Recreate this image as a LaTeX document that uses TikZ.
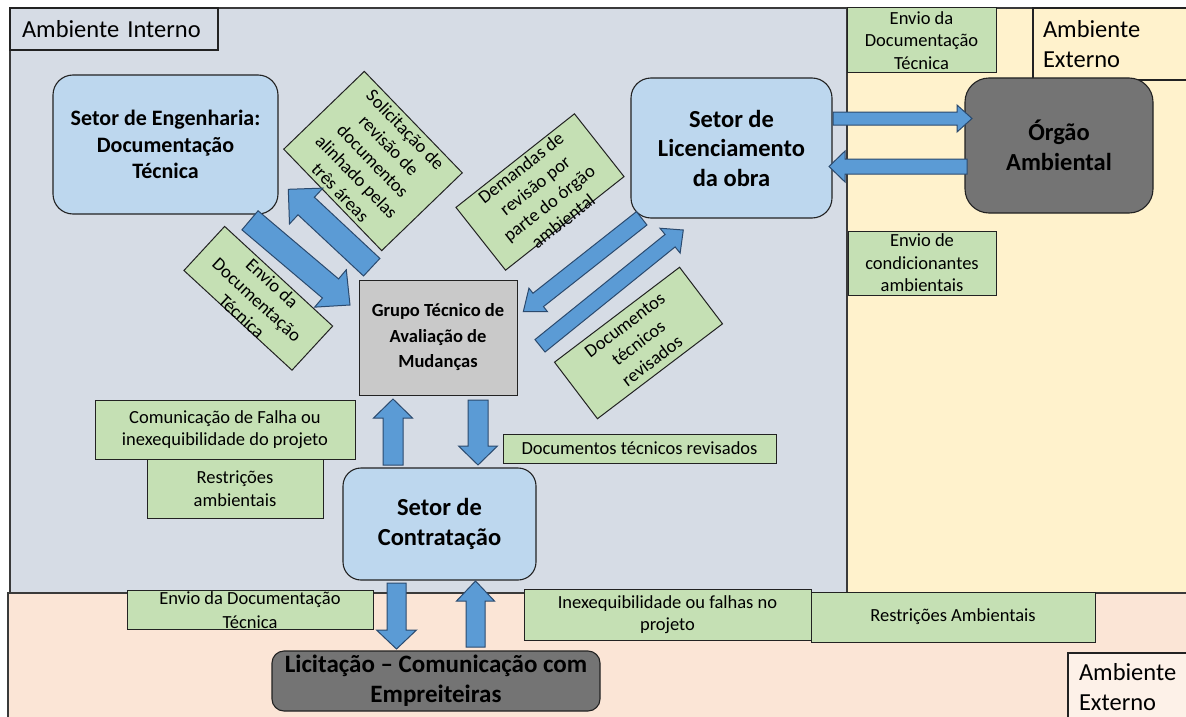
\documentclass[tikz,border=0pt]{standalone}
\usepackage{fontspec}
\setmainfont{Carlito}
\usetikzlibrary{calc}

\definecolor{innerbg}{HTML}{D6DCE5}
\definecolor{outerbg}{HTML}{FFF2CC}
\definecolor{lowerbg}{HTML}{FBE5D6}
\definecolor{lowertag}{HTML}{FDF1E8}
\definecolor{sectorblue}{HTML}{BDD7EE}
\definecolor{notegreen}{HTML}{C5E0B4}
\definecolor{groupgray}{HTML}{C9C9C9}
\definecolor{darkunit}{HTML}{747474}
\definecolor{flowblue}{HTML}{5B9BD5}
\definecolor{flowedge}{HTML}{2B4A6E}
\definecolor{edgeblack}{HTML}{222222}
\definecolor{zoneedge}{HTML}{3A3A3A}

\newcommand\fsz[2]{\fontsize{#1}{#2}\selectfont}

% block arrow: start, end, half shaft width, half head width, head length
\newcommand\flowarrow[5]{%
  \path ($(#2)!#5!(#1)$) coordinate (hbase);
  \draw[flow] ($(#1)!#3!90:(#2)$) -- ($(hbase)!#3!90:(#2)$)
    -- ($(hbase)!#4!90:(#2)$) -- (#2) -- ($(hbase)!#4!-90:(#2)$)
    -- ($(hbase)!#3!-90:(#2)$) -- ($(#1)!#3!-90:(#2)$) -- cycle;
}

\tikzset{
  zone/.style={draw=zoneedge, line width=1.3pt},
  zonetag/.style={draw=edgeblack, line width=1.1pt, inner sep=0pt, align=left,
    font=\fsz{24.5}{30}},
  sector/.style={draw=edgeblack, line width=1.1pt, fill=sectorblue,
    rounded corners=20pt, align=center, inner sep=0pt,
    font=\bfseries\fsz{24.5}{29.5}},
  unit/.style={sector, fill=darkunit},
  note/.style={draw=edgeblack, line width=1pt, fill=notegreen, align=center,
    inner sep=0pt, font=\fsz{18.5}{22.6}},
  notetext/.style={align=center, inner sep=0pt, font=\fsz{18.5}{22.6}},
  flow/.style={fill=flowblue, draw=flowedge, line width=1pt, line join=miter},
}

\begin{document}
\begin{tikzpicture}[x=1pt, y=-1pt]
\useasboundingbox (0,0) rectangle (1186,717);
\fill[white] (0,0) rectangle (1186,717);

% environment areas
\filldraw[zone, fill=lowerbg] (8,593) rectangle (1192,722);
\filldraw[zone, fill=outerbg] (847,8) rectangle (1192,593);
\filldraw[zone, fill=innerbg] (10,8) rectangle (847,593);

% area captions
\node[zonetag, fill=innerbg, minimum width=208pt, minimum height=42pt,
  text width=184pt] (tagint) at (114,29) {Ambiente Interno};
\node[zonetag, fill=outerbg, minimum width=157pt, minimum height=72pt,
  text width=137pt] (tagext) at (1111.5,44) {Ambiente\\Externo};
\node[zonetag, fill=lowertag, minimum width=122pt, minimum height=69pt,
  text width=100pt] (tagextb) at (1129,687.5) {Ambiente\\Externo};

% sectors and external bodies
\node[sector, minimum width=225pt, minimum height=139pt,
  font=\bfseries\fsz{22}{26.5}] (eng) at (165.5,144.5)
  {Setor de Engenharia:\\Documentação\\Técnica};
\node[sector, minimum width=201pt, minimum height=140pt] (lic) at (731.5,148)
  {Setor de\\Licenciamento\\da obra};
\node[unit, rounded corners=24pt, minimum width=188pt, minimum height=135pt]
  (org) at (1059,145.5) {Órgão\\Ambiental};
\node[draw=edgeblack, line width=1pt, fill=groupgray, align=center,
  inner sep=0pt, font=\bfseries\fsz{18.5}{25.5}, minimum width=158pt,
  minimum height=115pt] (grp) at (438,337.5)
  {Grupo Técnico de\\Avaliação de\\Mudanças};
\node[sector, rounded corners=18pt, minimum width=193pt, minimum height=112pt]
  (con) at (439.5,524) {Setor de\\Contratação};
\node[unit, rounded corners=12pt, minimum width=328pt, minimum height=60pt,
  font=\bfseries\fsz{25}{30}] (lit) at (436,681)
  {Licitação – Comunicação com\\Empreiteiras};

% flow notes
\node[note, minimum width=149pt, minimum height=65pt] (nEnvTop) at (921.5,40.5)
  {Envio da\\Documentação\\Técnica};
\node[note, minimum width=148pt, minimum height=64pt] (nCond) at (922,263)
  {Envio de\\condicionantes\\ambientais};
\node[note, minimum width=260pt, minimum height=59pt] (nCom) at (225,429.5)
  {Comunicação de Falha ou\\inexequibilidade do projeto};
\node[note, minimum width=176pt, minimum height=59pt] (nRestr) at (235,488.5)
  {Restrições\\ambientais};
\node[note, minimum width=273pt, minimum height=29pt] (nDocRev) at (639.5,448.5)
  {Documentos técnicos revisados};
\node[note, minimum width=246pt, minimum height=39pt] (nEnvBot) at (250,609.5) {};
\node[notetext, anchor=north] (nEnvBotT) at ($(nEnvBot.north)+(0,2)$)
  {Envio da Documentação\\[1pt]Técnica};
\node[note, minimum width=287pt, minimum height=51pt] (nInex) at (667.5,614.5)
  {Inexequibilidade ou falhas no\\projeto};
\node[note, minimum width=284pt, minimum height=50pt] (nRestrA) at (953,617)
  {Restrições Ambientais};

% slanted notes
\node[note, rotate=-46, minimum width=141pt, minimum height=112pt] (nSol)
  at (373,161) {Solicitação de\\revisão de\\documentos\\alinhado pelas\\três áreas};
\node[note, rotate=38.3, minimum width=151pt, minimum height=80pt] (nDem)
  at (540,192) {};
\node[notetext, rotate=38.3, anchor=north] (nDemT)
  at ($(nDem.north)!3pt!(nDem.south)$)
  {Demandas de\\revisão por\\parte do órgão\\ambiental};
\node[note, rotate=37.2, minimum width=157pt, minimum height=71pt] (nDocs)
  at (638.5,343) {Documentos\\técnicos\\revisados};
\node[note, rotate=-42.7, minimum width=147pt, minimum height=60pt] (nEnvRot)
  at (258.3,298.3) {};
\node[notetext, rotate=-42.7, anchor=north] (nEnvRotT)
  at ($(nEnvRot.north)!3pt!(nEnvRot.south)$)
  {Envio da\\Documentação\\Técnica};

% arrow end points
\coordinate (engOut) at (250,220.3);   \coordinate (grpInA) at (350,305);
\coordinate (grpOutB) at (371.7,267.2); \coordinate (engIn) at (288.3,189.3);
\coordinate (licOut) at (641.7,218.3); \coordinate (grpInC) at (523.3,311.7);
\coordinate (grpOutD) at (540,345.8);  \coordinate (licIn) at (683.3,230);
\coordinate (licOutE) at (833,118.5);  \coordinate (orgIn) at (972,118.5);
\coordinate (orgOut) at (967,166.5);   \coordinate (licInF) at (829,166.5);
\coordinate (conOutG) at (393,465);    \coordinate (grpInG) at (393,399);
\coordinate (grpOutH) at (478,400);    \coordinate (conInH) at (478,465);
\coordinate (conOutI) at (396.5,583);  \coordinate (litIn) at (396.5,649);
\coordinate (litOut) at (475.5,647);   \coordinate (conInJ) at (475.5,581);

% flows
\flowarrow{engOut}{grpInA}{12.5pt}{24.5pt}{25.6pt}
\flowarrow{grpOutB}{engIn}{12pt}{24.5pt}{24.5pt}
\flowarrow{licOut}{grpInC}{8.5pt}{15pt}{19pt}
\flowarrow{grpOutD}{licIn}{8pt}{16pt}{17pt}
\flowarrow{licOutE}{orgIn}{6.5pt}{13.5pt}{15pt}
\flowarrow{orgOut}{licInF}{7.5pt}{15.5pt}{16pt}
\flowarrow{conOutG}{grpInG}{10pt}{19.5pt}{19pt}
\flowarrow{grpOutH}{conInH}{10pt}{19.5pt}{19pt}
\flowarrow{conOutI}{litIn}{9.5pt}{20pt}{19pt}
\flowarrow{litOut}{conInJ}{9.5pt}{19pt}{20pt}
\end{tikzpicture}
\end{document}
